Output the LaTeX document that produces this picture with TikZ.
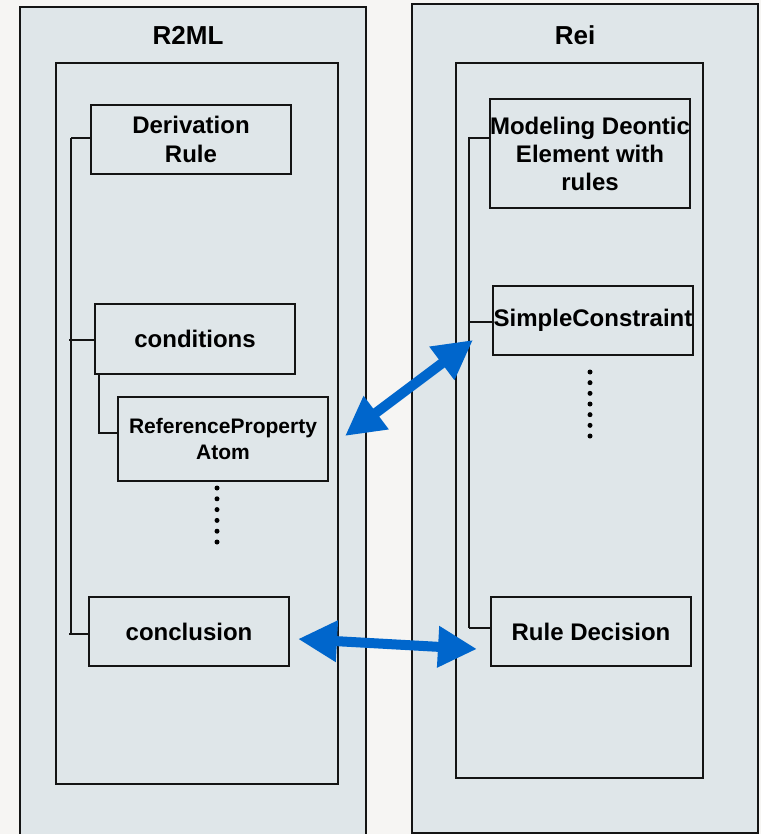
\documentclass[tikz,border=0pt]{standalone}
\usepackage{fontspec}
\setmainfont{Liberation Sans}
\usetikzlibrary{arrows.meta}
\definecolor{pagebg}{HTML}{F6F5F3}
\definecolor{panelfill}{HTML}{DFE6E9}
\definecolor{edge}{HTML}{141414}
\definecolor{linkblue}{HTML}{0066CC}
\begin{document}
\begin{tikzpicture}[x=1pt,y=-1pt,
  panel/.style={draw=edge, line width=1.8pt, fill=panelfill},
  elem/.style={draw=edge, line width=1.8pt, fill=panelfill, rectangle, inner sep=0pt,
    minimum width=200pt, minimum height=69pt, align=center,
    font=\bfseries\fontsize{24}{29}\selectfont},
  title/.style={inner sep=0pt, anchor=base, font=\bfseries\fontsize{26}{30}\selectfont},
  tree/.style={draw=edge, line width=1.5pt},
  dot/.style={fill=black},
  biglink/.style={draw=linkblue, line width=10pt,
    {Triangle[width=39pt,length=39pt]}-{Triangle[width=39pt,length=39pt]}}]

% page and bounding box
\useasboundingbox (0,0) rectangle (761,834);
\fill[pagebg] (0,0) rectangle (761,834);

% outer containers
\draw[panel] (20,7) rectangle (366,850);
\draw[panel] (412,4) rectangle (758,833);
% inner containers
\draw[panel] (56,63) rectangle (338,784);
\draw[panel] (456,63) rectangle (703,778);

% titles
\node[title] (r2ml) at (188,45) {R2ML};
\node[title] (rei) at (575,45) {Rei};

% R2ML elements
\node[elem] (dr) at (191,139.5) {Derivation\\Rule};
\node[elem, minimum height=70pt] (cond) at (195,339) {conditions};
\node[elem, minimum width=210pt, minimum height=84pt,
      font=\bfseries\fontsize{21}{26}\selectfont] (rpa) at (223,439) {ReferenceProperty\\Atom};
\node[elem] (conc) at (189,631.5) {conclusion};

% Rei elements
\node[elem, minimum height=109pt, font=\bfseries\fontsize{24}{28}\selectfont] (mde) at (590,153.5) {Modeling Deontic\\Element with\\rules};
\node[elem] (sc) at (593,320.5) {SimpleConstraint};
\node[elem] (rd) at (591,631.5) {Rule Decision};

% R2ML tree lines
\coordinate (lt) at (71,138);
\coordinate (lb) at (71,634);
\draw[tree] (lt) -- (lb);
\draw[tree] (lt) -- (dr.west |- lt);
\draw[tree] (69,340) -- (cond.west |- 0,340);
\draw[tree] (69,634) -- (conc.west |- lb);
\coordinate (cb) at (99,374);
\coordinate (ct) at (99,433);
\draw[tree] (cond.south -| cb) -- (ct) -- (rpa.west |- ct);

% Rei tree lines
\coordinate (rt) at (469,137);
\coordinate (rb) at (469,628);
\draw[tree] (rt) -- (rb);
\draw[tree] (469,138) -- (mde.west |- 0,138);
\draw[tree] (468,322) -- (sc.west |- 0,322);
\draw[tree] (rb) -- (rd.west |- rb);

% ellipsis dots
\foreach \i in {0,...,5} \fill[dot] (217,488+10.8*\i) circle (2.5pt);
\foreach \i in {0,...,6} \fill[dot] (590,372+10.67*\i) circle (2.5pt);

% mapping links
\coordinate (m1a) at (345,436);
\coordinate (m1b) at (473,340);
\coordinate (m2a) at (298,639);
\coordinate (m2b) at (477,649);
\draw[biglink] (m1a) -- (m1b);
\draw[biglink] (m2a) -- (m2b);
\end{tikzpicture}
\end{document}
